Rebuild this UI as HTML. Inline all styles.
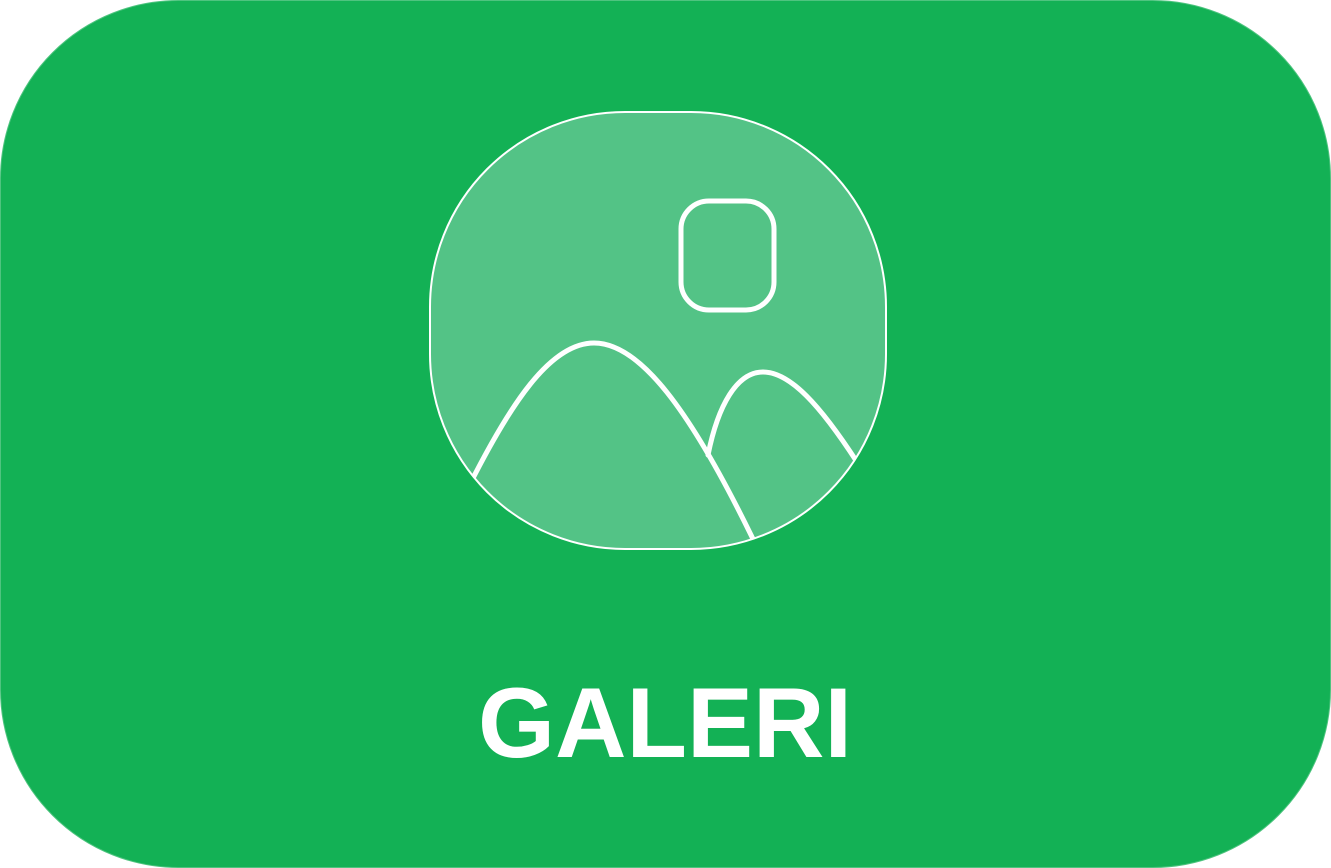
<!DOCTYPE html>
<html><head><meta charset="utf-8"><style>
html,body{margin:0;padding:0;background:#fff;width:1331px;height:868px;overflow:hidden}
svg{display:block}
</style></head><body>
<svg width="1331" height="868" viewBox="0 0 1331 868">
<defs><clipPath id="ic"><rect x="430" y="112" width="456" height="437" rx="195" ry="195"/></clipPath></defs>
<rect x="0.5" y="0.5" width="1330" height="867" rx="178" ry="178" fill="#13B155" stroke="#4ec47f" stroke-width="1"/>
<g>
<rect x="430" y="112" width="456" height="437" rx="195" ry="195" fill="#53C386" stroke="#fff" stroke-width="2"/>
<g clip-path="url(#ic)" fill="none" stroke="#fff" stroke-width="5" stroke-linecap="round">
<path d="M470,484 C510,405 550,343 594,343 C640,343 690,410 752,537 L760,552"/>
<path d="M708,455 C718,405 737,372 763,372 C790,372 820,405 857,462"/>
</g>
<rect x="681" y="201" width="93" height="109" rx="28" ry="28" fill="none" stroke="#fff" stroke-width="5"/>
</g>
<text x="665" y="757" text-anchor="middle" font-family="Liberation Sans, Arial, sans-serif" font-weight="bold" font-size="99" fill="#fff">GALERI</text>
</svg>
</body></html>
